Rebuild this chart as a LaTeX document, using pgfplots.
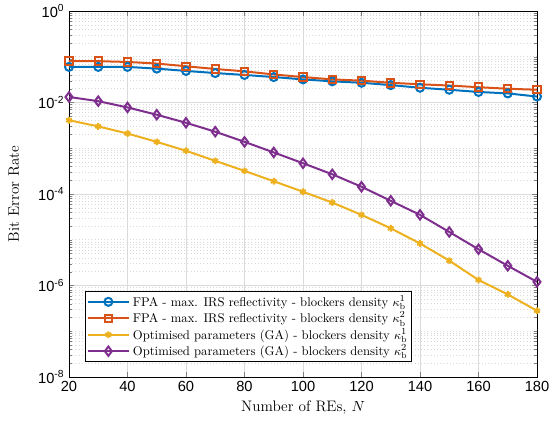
\documentclass[border=0pt]{standalone}
\usepackage{pgfplots}
\pgfplotsset{compat=1.18}
\usepackage{fontspec}
\newfontfamily\ticksf{Liberation Sans}

\definecolor{mblue}{rgb}{0,0.447,0.741}
\definecolor{morange}{rgb}{0.85,0.325,0.098}
\definecolor{myellow}{rgb}{0.929,0.694,0.125}
\definecolor{mpurple}{rgb}{0.494,0.184,0.556}

% BER vs number of REs
\pgfplotstableread{
N    ber
20   0.060
30   0.060
40   0.060
50   0.055
60   0.049
70   0.044
80   0.040
90   0.036
100  0.032
110  0.029
120  0.027
130  0.024
140  0.021
150  0.019
160  0.017
170  0.0158
180  0.0135
}\fpaone
\pgfplotstableread{
N    ber
20   0.080
30   0.080
40   0.077
50   0.071
60   0.062
70   0.054
80   0.048
90   0.041
100  0.036
110  0.032
120  0.030
130  0.027
140  0.025
150  0.0235
160  0.0216
170  0.020
180  0.019
}\fpatwo
\pgfplotstableread{
N    ber
20   4.1e-3
30   3.0e-3
40   2.1e-3
50   1.38e-3
60   8.8e-4
70   5.3e-4
80   3.2e-4
90   1.9e-4
100  1.12e-4
110  6.5e-5
120  3.5e-5
130  1.78e-5
140  8.3e-6
150  3.5e-6
160  1.32e-6
170  6.4e-7
180  2.8e-7
}\gaone
\pgfplotstableread{
N    ber
20   1.32e-2
30   1.07e-2
40   7.8e-3
50   5.4e-3
60   3.6e-3
70   2.3e-3
80   1.38e-3
90   8.1e-4
100  4.7e-4
110  2.7e-4
120  1.44e-4
130  7.1e-5
140  3.5e-5
150  1.48e-5
160  6.2e-6
170  2.7e-6
180  1.2e-6
}\gatwo

\begin{document}
\begin{tikzpicture}
\begin{axis}[
  scale only axis,
  width=351pt, height=274.5pt,
  ymode=log,
  xmin=20, xmax=180,
  ymin=1e-8, ymax=1,
  xtick={20,40,...,180},
  ytick={1e-8,1e-6,1e-4,1e-2,1},
  yticklabels={10\textsuperscript{-8},10\textsuperscript{-6},10\textsuperscript{-4},10\textsuperscript{-2},10\textsuperscript{0}},
  minor ytick={2e-8,3e-8,4e-8,5e-8,6e-8,7e-8,8e-8,9e-8,1e-7,2e-7,3e-7,4e-7,5e-7,6e-7,7e-7,8e-7,9e-7,
    2e-6,3e-6,4e-6,5e-6,6e-6,7e-6,8e-6,9e-6,1e-5,2e-5,3e-5,4e-5,5e-5,6e-5,7e-5,8e-5,9e-5,
    2e-4,3e-4,4e-4,5e-4,6e-4,7e-4,8e-4,9e-4,1e-3,2e-3,3e-3,4e-3,5e-3,6e-3,7e-3,8e-3,9e-3,
    2e-2,3e-2,4e-2,5e-2,6e-2,7e-2,8e-2,9e-2,1e-1,2e-1,3e-1,4e-1,5e-1,6e-1,7e-1,8e-1,9e-1},
  ticklabel style={font=\ticksf\fontsize{11}{13}\selectfont},
  /pgf/number format/assume math mode=true,
  tick align=inside,
  xtick pos=both, ytick pos=both,
  major tick length=4pt, minor tick length=2pt,
  grid=both,
  major grid style={gray!28, line width=0.4pt},
  minor grid style={gray!30, dotted, line width=0.4pt},
  axis line style={line width=0.5pt},
  xlabel={Number of REs, $N$},
  ylabel={Bit Error Rate},
  ylabel style={at={(axis description cs:-0.118,0.5)}, anchor=center},
  label style={font=\fontsize{11.4}{13}\selectfont},
  every axis plot/.append style={line width=1.5pt},
  legend style={at={(axis description cs:0.034,0.041)}, anchor=south west,
    font=\fontsize{9.5}{11}\selectfont, draw=black,
    cells={anchor=west}, inner sep=1pt, row sep=-1.5pt},
  legend image code/.code={
    \draw[mark repeat=2,mark phase=2] plot coordinates {(0cm,0cm) (0.55cm,0cm) (1.1cm,0cm)};
  },
]
\addplot[color=mblue, mark=o, mark size=3pt] table[x=N,y=ber] {\fpaone};
\addlegendentry{FPA - max. IRS reflectivity - blockers density $\kappa_{\mathrm{b}}^{1}$}
\addplot[color=morange, mark=square, mark size=2.8pt] table[x=N,y=ber] {\fpatwo};
\addlegendentry{FPA - max. IRS reflectivity - blockers density $\kappa_{\mathrm{b}}^{2}$}
\addplot[color=myellow, mark=asterisk, mark size=2.5pt] table[x=N,y=ber] {\gaone};
\addlegendentry{Optimised parameters (GA) - blockers density $\kappa_{\mathrm{b}}^{1}$}
\addplot[color=mpurple, mark=diamond, mark size=3.5pt] table[x=N,y=ber] {\gatwo};
\addlegendentry{Optimised parameters (GA) - blockers density $\kappa_{\mathrm{b}}^{2}$}
\end{axis}
\pgfresetboundingbox
\path (-51.75pt,-35.25pt) rectangle (365.25pt,282.75pt);
\end{tikzpicture}
\end{document}
